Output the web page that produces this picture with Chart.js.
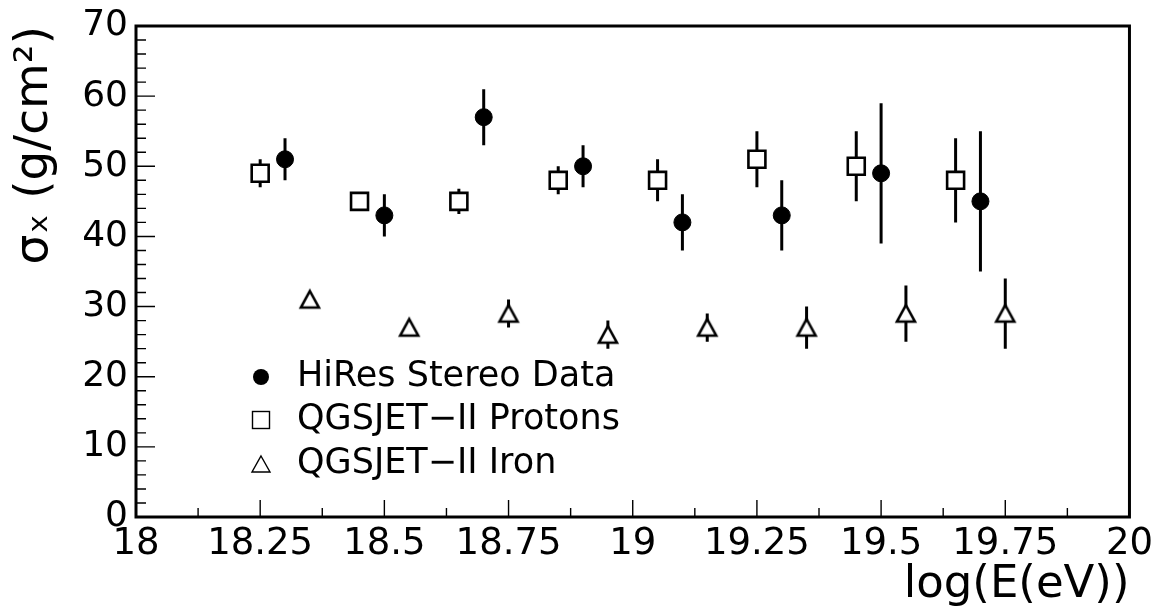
<!DOCTYPE html>
<html>
<head>
<meta charset="utf-8">
<title>sigma_x vs log(E)</title>
<script src="https://cdn.jsdelivr.net/npm/chart.js@4"></script>
<style>
  html, body { margin: 0; padding: 0; background: #fff; }
  #wrap { width: 1158px; height: 612px; }
</style>
</head>
<body>
<div id="wrap"><canvas id="plot" width="1158" height="612"></canvas></div>
<script>
// values (sigma_x in g/cm^2, symmetric errors)
const hiresX = [18.3, 18.5, 18.7, 18.9, 19.1, 19.3, 19.5, 19.7];
const hiresY = [51, 43, 57, 50, 42, 43, 49, 45];
const hiresErr = [3, 3, 4, 3, 4, 5, 10, 10];

const protonX = [18.25, 18.45, 18.65, 18.85, 19.05, 19.25, 19.45, 19.65];
const protonY = [49, 45, 45, 48, 48, 51, 50, 48];
const protonErr = [2, 1, 1.8, 2, 3, 4, 5, 6];

const ironX = [18.35, 18.55, 18.75, 18.95, 19.15, 19.35, 19.55, 19.75];
const ironY = [31, 27, 29, 26, 27, 27, 29, 29];
const ironErr = [1, 1, 2, 2, 2, 3, 4, 5];

const xTickLabels = ['18', '18.25', '18.5', '18.75', '19', '19.25', '19.5', '19.75', '20'];
const yTickLabels = ['0', '10', '20', '30', '40', '50', '60', '70'];

const seriesNames = ['HiRes Stereo Data', 'QGSJET\u2212II Protons', 'QGSJET\u2212II Iron'];

Chart.defaults.font.family = '"DejaVu Sans", sans-serif';
Chart.defaults.color = '#000';

// open triangle marker (ROOT style, centred on its box)
function makeTriangle() {
  let c = document.createElement('canvas');
  c.width = 26;
  c.height = 26;
  let g = c.getContext('2d');
  g.beginPath();
  g.moveTo(13, 4.5);
  g.lineTo(22, 21);
  g.lineTo(4, 21);
  g.closePath();
  g.fillStyle = '#fff';
  g.fill();
  g.lineWidth = 2.6;
  g.lineJoin = 'miter';
  g.strokeStyle = '#000';
  g.stroke();
  return c;
}
const triMarker = makeTriangle();

function points(xs, ys) {
  return xs.map((x, i) => ({ x: x, y: ys[i] }));
}

// vertical error bars as broken line segments
function errorBars(xs, ys, errs) {
  let pts = [];
  xs.forEach((x, i) => {
    pts.push({ x: x, y: ys[i] - errs[i] });
    pts.push({ x: x, y: ys[i] + errs[i] });
    pts.push({ x: x, y: null });
  });
  return pts;
}

function barSet(data) {
  return {
    type: 'line', data: data, showLine: true, spanGaps: false,
    borderColor: '#000', borderWidth: 3, pointRadius: 0, order: 5
  };
}

// ticks inside the frame + frame + legend, like ROOT draws it
const rootLook = {
  id: 'rootLook',
  afterDatasetsDraw(chart) {
    const ctx = chart.ctx;
    const a = chart.chartArea;
    const xs = chart.scales.x, ys = chart.scales.y;
    ctx.save();
    ctx.strokeStyle = '#000';
    ctx.lineWidth = 1.4;
    ctx.beginPath();
    for (let i = 1; i < 16; i++) {
      let px = xs.getPixelForValue(xs.min + i * 0.125);
      let len = (i % 2 == 0) ? 17 : 9;
      ctx.moveTo(px, a.bottom);
      ctx.lineTo(px, a.bottom - len);
    }
    for (let v = 2; v < ys.max; v += 2) {
      let py = ys.getPixelForValue(v);
      let len = (v % 10 == 0) ? 19 : 10;
      ctx.moveTo(a.left, py);
      ctx.lineTo(a.left + len, py);
    }
    ctx.stroke();
    ctx.lineWidth = 3;
    ctx.strokeRect(a.left, a.top, a.right - a.left, a.bottom - a.top);

    // legend
    const rows = [377, 420, 464];
    const mx = 261, tx = 297;
    ctx.fillStyle = '#000';
    ctx.lineWidth = 1.4;
    ctx.beginPath();
    ctx.arc(mx, rows[0], 8, 0, Math.PI * 2);
    ctx.fill();
    ctx.strokeRect(mx - 8.5, rows[1] - 8.5, 17, 17);
    ctx.beginPath();
    ctx.moveTo(mx, rows[2] - 8);
    ctx.lineTo(mx + 9, rows[2] + 8);
    ctx.lineTo(mx - 9, rows[2] + 8);
    ctx.closePath();
    ctx.stroke();
    ctx.font = '35px "DejaVu Sans"';
    ctx.textBaseline = 'middle';
    ctx.textAlign = 'left';
    seriesNames.forEach((name, i) => ctx.fillText(name, tx, rows[i]));
    ctx.restore();
  }
};

new Chart(document.getElementById('plot'), {
  type: 'scatter',
  data: {
    datasets: [
      {
        label: seriesNames[0], data: points(hiresX, hiresY), order: 1,
        pointStyle: 'circle', pointRadius: 8.5,
        backgroundColor: '#000', borderColor: '#000', borderWidth: 1
      },
      {
        label: seriesNames[1], data: points(protonX, protonY), order: 1,
        pointStyle: 'rect', pointRadius: 12,
        backgroundColor: '#fff', borderColor: '#000', borderWidth: 2.6
      },
      {
        label: seriesNames[2], data: points(ironX, ironY), order: 1,
        pointStyle: triMarker, pointRadius: 12,
        backgroundColor: '#fff', borderColor: '#000'
      },
      barSet(errorBars(hiresX, hiresY, hiresErr)),
      barSet(errorBars(protonX, protonY, protonErr)),
      barSet(errorBars(ironX, ironY, ironErr))
    ]
  },
  options: {
    responsive: false,
    animation: false,
    events: [],
    layout: { padding: { top: 20, right: 27, left: 0, bottom: 0 } },
    plugins: { legend: { display: false }, tooltip: { enabled: false } },
    scales: {
      x: {
        type: 'linear', position: 'bottom', min: 18, max: 20,
        afterBuildTicks: s => { s.ticks = xTickLabels.map(t => ({ value: parseFloat(t) })); },
        afterFit: s => { s.height = 95; },
        grid: { display: false, drawTicks: false },
        border: { display: false },
        ticks: {
          autoSkip: false, maxRotation: 0, minRotation: 0, padding: 5,
          font: { size: 37, lineHeight: 1.2 },
          callback: (v, i) => xTickLabels[i]
        },
        title: {
          display: true, text: 'log(E(eV))', align: 'end',
          font: { size: 45, lineHeight: 1.2 }, padding: { top: 0, bottom: 0 }
        }
      },
      y: {
        type: 'linear', position: 'left', min: 0, max: 70,
        afterBuildTicks: s => { s.ticks = yTickLabels.map(t => ({ value: parseFloat(t) })); },
        afterFit: s => { s.width = 136; },
        grid: { display: false, drawTicks: false },
        border: { display: false },
        ticks: {
          autoSkip: false, padding: 8,
          font: { size: 36, lineHeight: 1 },
          callback: (v, i) => yTickLabels[i]
        },
        title: {
          display: true, text: '\u03c3\u2093 (g/cm\u00b2)', align: 'end',
          font: { size: 47, lineHeight: 1.2 }, padding: { top: 7, bottom: 0 }
        }
      }
    }
  },
  plugins: [rootLook]
});
</script>
</body>
</html>
